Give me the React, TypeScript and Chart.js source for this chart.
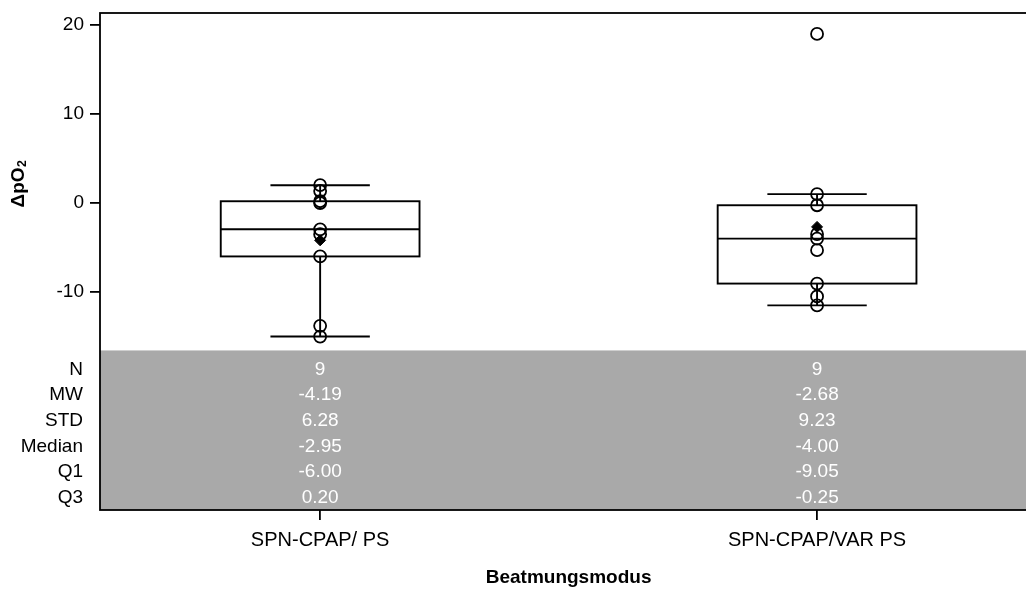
import React, { useEffect, useRef } from "react";
import { Chart, registerables } from "chart.js";

Chart.register(...registerables);

// ---- data ----
const categories = ["SPN-CPAP/ PS", "SPN-CPAP/VAR PS"];
const pointsPS = [2.0, 1.35, 0.2, 0.0, -2.95, -3.5, -6.0, -13.8, -15.0];
const pointsVarPS = [19.0, 1.0, -0.25, -3.5, -4.0, -5.3, -9.05, -10.5, -11.5];
const statN = [9, 9];
const statMW = [-4.19, -2.68];
const statSTD = [6.28, 9.23];
const statMedian = [-2.95, -4.0];
const statQ1 = [-6.0, -9.05];
const statQ3 = [0.2, -0.25];
const yTicks = [-10, 0, 10, 20];
const tableRowLabels = ["N", "MW", "STD", "Median", "Q1", "Q3"];

const FONT = "'Liberation Sans', Arial, sans-serif";
const FS = 19;

const groups = [pointsPS, pointsVarPS];

function whiskers(pts: number[], q1: number, q3: number) {
  const iqr = q3 - q1;
  const lo = q1 - 1.5 * iqr;
  const hi = q3 + 1.5 * iqr;
  const inside = pts.filter((v) => v >= lo && v <= hi);
  return [Math.min(...inside), Math.max(...inside)];
}

const boxPlugin = {
  id: "boxPlugin",
  beforeDatasetsDraw(chart: any) {
    const { ctx, chartArea, scales } = chart;
    const x = scales.x;
    const y = scales.y;
    ctx.save();
    // table band
    const tableTop = chartArea.bottom - 160;
    ctx.fillStyle = "#a9a9a9";
    ctx.fillRect(chartArea.left, tableTop, chartArea.right - chartArea.left, chartArea.bottom - tableTop);
    ctx.fillStyle = "#cfcfcf";
    ctx.fillRect(chartArea.left, tableTop, chartArea.right - chartArea.left, 1);

    ctx.strokeStyle = "#000";
    ctx.lineWidth = 1.9;
    groups.forEach((pts, i) => {
      const cx = x.getPixelForValue(i);
      const halfBox = x.getPixelForValue(i + 0.2) - cx;
      const halfCap = x.getPixelForValue(i + 0.1) - cx;
      const [wl, wh] = whiskers(pts, statQ1[i], statQ3[i]);
      const yq1 = y.getPixelForValue(statQ1[i]);
      const yq3 = y.getPixelForValue(statQ3[i]);
      const ymed = y.getPixelForValue(statMedian[i]);
      const ywl = y.getPixelForValue(wl);
      const ywh = y.getPixelForValue(wh);
      ctx.beginPath();
      ctx.moveTo(cx, yq3);
      ctx.lineTo(cx, ywh);
      ctx.moveTo(cx, yq1);
      ctx.lineTo(cx, ywl);
      ctx.moveTo(cx - halfCap, ywh);
      ctx.lineTo(cx + halfCap, ywh);
      ctx.moveTo(cx - halfCap, ywl);
      ctx.lineTo(cx + halfCap, ywl);
      ctx.stroke();
      ctx.fillStyle = "#fff";
      ctx.fillRect(cx - halfBox, yq3, 2 * halfBox, yq1 - yq3);
      ctx.strokeRect(cx - halfBox, yq3, 2 * halfBox, yq1 - yq3);
      ctx.beginPath();
      ctx.moveTo(cx - halfBox, ymed);
      ctx.lineTo(cx + halfBox, ymed);
      ctx.stroke();
    });

    // table texts
    const rowY0 = tableTop + 19.5;
    const rowH = 25.6;
    const values = [statN, statMW, statSTD, statMedian, statQ1, statQ3];
    ctx.font = `${FS}px ${FONT}`;
    ctx.textBaseline = "middle";
    tableRowLabels.forEach((lab, r) => {
      const ry = rowY0 + r * rowH;
      ctx.fillStyle = "#000";
      ctx.textAlign = "right";
      ctx.fillText(lab, chartArea.left - 17, ry);
      ctx.fillStyle = "#fff";
      ctx.textAlign = "center";
      values[r].forEach((v, i) => {
        const s = r === 0 ? String(v) : v.toFixed(2);
        ctx.fillText(s, x.getPixelForValue(i), ry);
      });
    });

    // y title
    ctx.save();
    ctx.translate(19, 184);
    ctx.rotate(-Math.PI / 2);
    ctx.fillStyle = "#000";
    ctx.textBaseline = "middle";
    ctx.textAlign = "left";
    const main = "\u0394pO";
    ctx.font = `bold ${FS}px ${FONT}`;
    const w1 = ctx.measureText(main).width;
    ctx.font = `bold ${FS * 0.65}px ${FONT}`;
    const w2 = ctx.measureText("2").width;
    const start = -(w1 + w2) / 2;
    ctx.font = `bold ${FS}px ${FONT}`;
    ctx.fillText(main, start, 0);
    ctx.font = `bold ${FS * 0.65}px ${FONT}`;
    ctx.fillText("2", start + w1 + 0.5, 4);
    ctx.restore();

    ctx.restore();
  },
  afterDraw(chart: any) {
    const { ctx, chartArea } = chart;
    ctx.save();
    ctx.strokeStyle = "#000";
    ctx.lineWidth = 1.8;
    ctx.strokeRect(chartArea.left, chartArea.top, chartArea.right - chartArea.left, chartArea.bottom - chartArea.top);
    ctx.restore();
  },
};

export default function App() {
  const ref = useRef<HTMLCanvasElement>(null);
  useEffect(() => {
    if (!ref.current) return;
    const circleData: any[] = [];
    groups.forEach((pts, i) => pts.forEach((v) => circleData.push({ x: i, y: v })));
    const meanData = statMW.map((v, i) => ({ x: i, y: v }));
    const chart = new Chart(ref.current, {
      type: "scatter",
      data: {
        datasets: [
          {
            data: meanData,
            pointStyle: "rectRot",
            pointRadius: 5.5,
            backgroundColor: "#000",
            borderColor: "#000",
            borderWidth: 1,
          },
          {
            data: circleData,
            pointStyle: "circle",
            pointRadius: 6,
            backgroundColor: "rgba(0,0,0,0)",
            borderColor: "#000",
            borderWidth: 1.8,
          },
        ],
      },
      plugins: [boxPlugin],
      options: {
        animation: false,
        responsive: false,
        events: [],
        layout: { padding: { left: 0, top: 13, right: 4, bottom: 0 } },
        plugins: { legend: { display: false }, tooltip: { enabled: false } },
        scales: {
          x: {
            type: "linear",
            min: -0.443,
            max: 1.443,
            afterBuildTicks: (s: any) => {
              s.ticks = categories.map((_, i) => ({ value: i }));
            },
            afterFit: (s: any) => {
              s.height = 79;
              s.paddingLeft = 0;
              s.paddingRight = 0;
            },
            ticks: {
              callback: (v: any) => categories[v as number] ?? "",
              color: "#000",
              font: { family: FONT, size: 20 },
              padding: 8,
              maxRotation: 0,
            },
            grid: { display: true, drawOnChartArea: false, drawTicks: true, tickLength: 10, color: "#000", lineWidth: 1.8 },
            border: { display: false },
            title: {
              display: true,
              text: "Beatmungsmodus",
              color: "#000",
              font: { family: FONT, size: FS, weight: "bold" },
              padding: { top: 9, bottom: 0 },
            },
          },
          y: {
            type: "linear",
            min: -34.49,
            max: 21.35,
            afterBuildTicks: (s: any) => {
              s.ticks = yTicks.map((v) => ({ value: v }));
            },
            afterFit: (s: any) => {
              s.width = 100;
              s.paddingTop = 0;
              s.paddingBottom = 0;
            },
            ticks: {
              color: "#000",
              font: { family: FONT, size: FS },
              padding: 6,
            },
            grid: { display: true, drawOnChartArea: false, drawTicks: true, tickLength: 10, color: "#000", lineWidth: 1.8 },
            border: { display: false },
          },
        },
      },
    } as any);
    return () => chart.destroy();
  }, []);
  return (
    <div style={{ position: "fixed", left: 0, top: 0, width: 1026, height: 589, overflow: "hidden", background: "#fff" }}>
      <canvas ref={ref} width={1045} height={589} style={{ width: 1045, height: 589, display: "block" }} />
    </div>
  );
}
